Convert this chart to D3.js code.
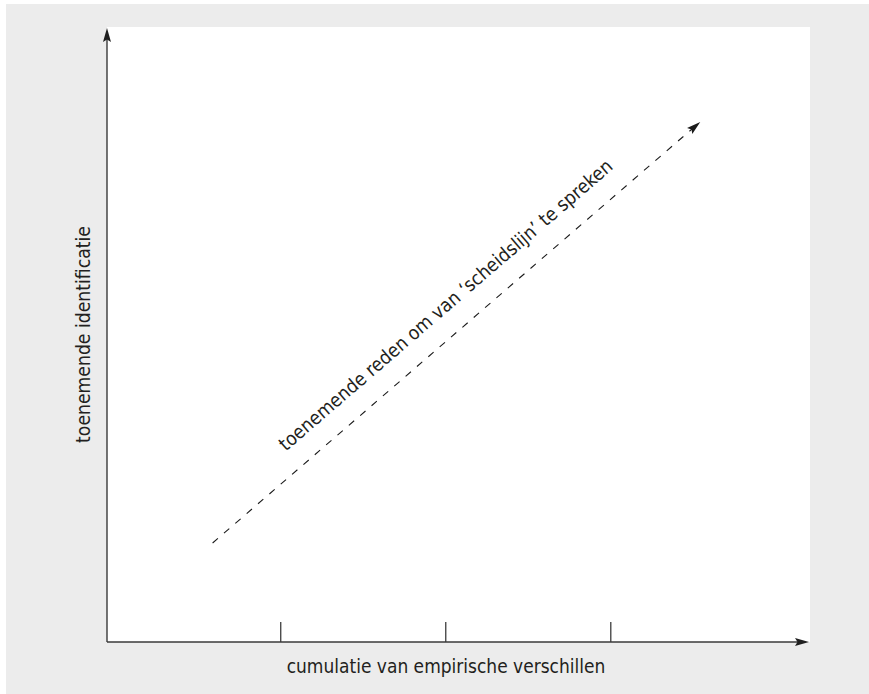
<!DOCTYPE html>
<html>
<head>
<meta charset="utf-8">
<script src="https://cdn.jsdelivr.net/npm/d3@7"></script>
<style>
  html, body { margin: 0; padding: 0; background: #ffffff; }
  svg { display: block; }
  text { font-family: "DejaVu Sans Condensed", "Open Sans", sans-serif; font-stretch: condensed; fill: #231f20; }
</style>
</head>
<body>
<svg id="chart" width="869" height="694"></svg>
<script>
// ---- data ----
const xTicks = [1, 2, 3];
const xDomain = [-0.05, 4.21];
const yDomain = [0, 3.727];
const trendX = [0.59, 3.545];
const trendY = [0.6, 3.152];
const xLabel = "cumulatie van empirische verschillen";
const yLabel = "toenemende identificatie";
const trendLabel = "toenemende reden om van \u2018scheidslijn\u2019 te spreken";

// ---- layout ----
const W = 869, H = 694;
const panel = { left: 107, top: 27, right: 810, bottom: 642 };

const svg = d3.select("#chart");

// outer grey frame
svg.append("rect").attr("x", 6).attr("y", 4).attr("width", W - 6).attr("height", H - 4).attr("fill", "#ececec");
// white plotting panel
svg.append("rect").attr("x", panel.left).attr("y", panel.top)
  .attr("width", panel.right - panel.left).attr("height", panel.bottom - panel.top).attr("fill", "#ffffff");

const x = d3.scaleLinear().domain(xDomain).range([panel.left, panel.right]);
const y = d3.scaleLinear().domain(yDomain).range([panel.bottom, panel.top]);

// ticks (upward, inside panel) via d3 axis
const xAxis = d3.axisBottom(x).tickValues(xTicks).tickSize(-20).tickFormat("");
const gx = svg.append("g").attr("transform", `translate(0,${panel.bottom})`).call(xAxis);
gx.select(".domain").remove();
gx.selectAll(".tick line").attr("stroke", "#1a1a1a").attr("stroke-width", 1.1);

// arrow helper
function arrowHead(tipX, tipY, angle, len, halfW, fill) {
  const c = Math.cos(angle), s = Math.sin(angle);
  const bx = tipX - c * len, by = tipY - s * len;
  const pts = [[tipX, tipY], [bx - s * halfW, by + c * halfW], [bx + c * 2.5, by + s * 2.5], [bx + s * halfW, by - c * halfW]];
  svg.append("path").attr("d", "M" + pts.map(p => p.join(",")).join("L") + "Z").attr("fill", fill);
}

// x axis line + arrow
svg.append("line").attr("x1", panel.left).attr("y1", panel.bottom).attr("x2", panel.right - 8).attr("y2", panel.bottom)
  .attr("stroke", "#3a3a3a").attr("stroke-width", 1.4);
arrowHead(panel.right - 1, panel.bottom, 0, 14, 4, "#1f1f1f");

// y axis line + arrow
svg.append("line").attr("x1", panel.left).attr("y1", panel.bottom).attr("x2", panel.left).attr("y2", panel.top + 8)
  .attr("stroke", "#3a3a3a").attr("stroke-width", 1.4);
arrowHead(panel.left, panel.top + 1, -Math.PI / 2, 14, 4, "#1f1f1f");

// dashed trend line
const x0 = x(trendX[0]), y0 = y(trendY[0]), x1 = x(trendX[1]), y1 = y(trendY[1]);
const ang = Math.atan2(y1 - y0, x1 - x0);
svg.append("line").attr("x1", x0).attr("y1", y0)
  .attr("x2", x1 - Math.cos(ang) * 8).attr("y2", y1 - Math.sin(ang) * 8)
  .attr("stroke", "#1a1a1a").attr("stroke-width", 1.1).attr("stroke-dasharray", "7,8");
arrowHead(x1, y1, ang, 14, 4, "#1a1a1a");

// fit text to a target width
function fit(t, target, base) {
  t.attr("font-size", base);
  const len = t.node().getComputedTextLength();
  t.attr("font-size", base * target / len);
}

// x label
const tx = svg.append("text").attr("x", 446).attr("y", 673).attr("text-anchor", "middle").text(xLabel);
fit(tx, 319, 17);

// y label
const ty = svg.append("text").attr("transform", `translate(90,${334.5}) rotate(-90)`).attr("text-anchor", "middle").text(yLabel);
fit(ty, 217, 17);

// diagonal label
const deg = ang * 180 / Math.PI;
const mx = (x0 + x1) / 2, my = (y0 + y1) / 2;
const ux = Math.cos(ang), uy = Math.sin(ang);
const nx = uy, ny = -ux; // normal pointing up-left
const cx = mx + ux * 9.8 + nx * 21.3, cy = my + uy * 9.8 + ny * 21.3;
const td = svg.append("text").attr("transform", `translate(${cx},${cy}) rotate(${deg})`).attr("text-anchor", "middle").text(trendLabel);
fit(td, 434, 17);
</script>
</body>
</html>
